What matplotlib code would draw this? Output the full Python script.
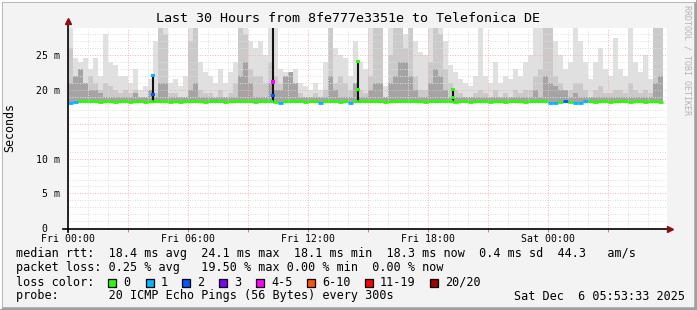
import numpy as np
import matplotlib.pyplot as plt
from matplotlib.patches import Rectangle
from matplotlib.lines import Line2D

W, H = 697, 310
MONO = 'DejaVu Sans Mono'

# smoke envelopes, 15 minute bins from Fri 00:00 (values in ms)
smoke_top = [29, 24.5, 24, 24.5, 23, 24.5, 22, 28, 24, 23.5,
             22, 22, 21, 23, 20, 20.5, 21.5, 27, 29, 29,
             21, 21.5, 20.5, 22, 29, 29, 24, 22.5, 22, 21,
             23, 21, 22.5, 24, 29, 29, 27, 26, 27, 25,
             29, 29, 23, 22.5, 21.5, 23, 21, 20.5, 20, 21,
             20, 24, 29, 26, 25, 24.5, 22, 27, 24, 23,
             29, 29, 29, 20.5, 29, 29, 29, 28, 29, 27,
             25.5, 25, 29, 29, 29, 27, 23.5, 22.5, 21.5, 21,
             20.5, 22, 29, 22, 21, 24, 21, 22, 21.5, 23,
             22, 24, 25, 29, 29, 29, 29, 27, 25, 23,
             24, 29, 27, 24, 21.5, 24, 26, 23, 22, 27.5,
             23, 22, 29, 24, 22.5, 25, 21.5, 29, 29]
smoke_mid = [26, 22, 23, 21, 22, 21, 20, 21, 20.5, 20,
             19.5, 20, 19.5, 20, 19, 19, 20, 19.5, 29, 28,
             19.5, 19.5, 19, 19, 27, 29, 20, 19.5, 19.5, 19,
             20, 19, 19.5, 21, 29, 28, 23, 22, 22, 21,
             24, 22, 21, 20, 20, 20, 19.5, 19, 19, 19.5,
             19, 20, 29, 21, 22, 21, 20, 21, 20, 19.5,
             22, 29, 29, 19, 25, 29, 29, 26, 29, 22,
             20, 20, 24, 29, 28, 23, 21, 20, 19.5, 19,
             19, 19.5, 20, 19.5, 19, 20, 19, 19.5, 19, 20,
             19.5, 20, 20, 22, 23, 29, 29, 22, 21, 20,
             20, 21, 21, 20, 19, 20, 20.5, 19.5, 19.5, 20,
             20, 19.5, 21, 20, 19.5, 20, 19.5, 29, 29]
smoke_dark = [21, 22, 23, 21, 20, 20, 19.5, 19, 19, 19,
              19, 19, 19, 19.5, 19, 19, 20, 19, 21, 21,
              19, 19, 19, 19, 20, 21, 19, 19, 19, 19,
              19, 19, 19, 19, 22, 24, 21, 19, 19, 19,
              21, 20, 20, 22, 22.5, 21, 19, 19, 19, 19,
              19, 19, 22, 20, 19, 19, 19, 21, 19, 19,
              20, 21, 21, 19, 21, 22, 24, 24, 22, 20,
              19, 19, 21, 23, 22, 20, 19, 19, 19, 19,
              19, 19, 19, 19, 19, 19, 19, 19, 19, 19,
              19, 19, 19, 20, 19, 22, 21, 20.5, 20, 20,
              19, 19.5, 19, 19, 19, 19, 19, 19, 19, 19,
              19, 19, 19, 19, 19, 19, 19, 21, 22]
median = [18.1, 18.2, 18.3, 18.4, 18.3, 18.3, 18.2, 18.3, 18.3, 18.2,
          18.3, 18.3, 18.2, 18.3, 18.3, 18.2, 18.3, 18.4, 18.3, 18.3,
          18.2, 18.3, 18.2, 18.3, 18.3, 18.4, 18.3, 18.2, 18.3, 18.3,
          18.3, 18.2, 18.3, 18.4, 18.3, 18.3, 18.3, 18.2, 18.3, 18.3,
          18.3, 18.2, 18.1, 18.3, 18.3, 18.4, 18.3, 18.2, 18.3, 18.3,
          18.1, 18.3, 18.3, 18.3, 18.2, 18.3, 18.1, 18.3, 18.4, 18.3,
          18.4, 18.3, 18.3, 18.2, 18.3, 18.4, 18.3, 18.3, 18.4, 18.3,
          18.3, 18.2, 18.3, 18.3, 18.4, 18.3, 18.3, 18.2, 18.3, 18.3,
          18.2, 18.3, 18.3, 18.3, 18.2, 18.3, 18.3, 18.2, 18.3, 18.3,
          18.3, 18.2, 18.3, 18.4, 18.3, 18.3, 18.1, 18.1, 18.2, 18.3,
          18.2, 18.1, 18.1, 18.3, 18.3, 18.2, 18.3, 18.3, 18.2, 18.3,
          18.3, 18.3, 18.2, 18.3, 18.3, 18.2, 18.3, 18.3, 18.2]
loss = [1, 1, 0, 0, 0, 0, 0, 0, 0, 0,
        0, 0, 0, 0, 0, 0, 0, 0, 0, 0,
        0, 0, 0, 0, 0, 0, 0, 0, 0, 0,
        0, 0, 0, 0, 0, 0, 0, 0, 0, 0,
        0, 0, 1, 0, 0, 0, 0, 0, 0, 0,
        1, 0, 0, 0, 0, 0, 1, 0, 0, 0,
        0, 0, 0, 0, 0, 0, 0, 0, 0, 0,
        0, 0, 0, 0, 0, 0, 0, 0, 0, 0,
        0, 0, 0, 0, 0, 0, 0, 0, 0, 0,
        0, 0, 0, 0, 0, 0, 1, 1, 0, 2,
        0, 1, 1, 1, 0, 0, 0, 0, 0, 0,
        0, 0, 0, 0, 0, 0, 0, 0, 0]

spike_hours = [4.25, 10.25, 14.5, 19.25]
spike_tops = [22.0, 28.9, 24.0, 20.0]
dot_hours = [4.25, 4.25, 10.25, 10.25, 14.5, 14.5, 19.25, 19.25]
dot_values = [22.0, 19.3, 21.1, 19.2, 24.0, 20.0, 20.0, 18.9]
dot_loss = [1, 2, 4, 2, 0, 0, 0, 0]

loss_labels = ['0', '1', '2', '3', '4-5', '6-10', '11-19', '20/20']
loss_colors = ['#26ff00', '#00b8ff', '#0059ff', '#7e00ff', '#ff00ff',
               '#ff5500', '#ff0000', '#a10000']
loss_box_x = [108, 146, 182, 219, 256, 307, 365, 430]

time_ticks = [0, 6, 12, 18, 24]
time_labels = ['Fri 00:00', 'Fri 06:00', 'Fri 12:00', 'Fri 18:00', 'Sat 00:00']
ms_ticks = [0, 5, 10, 20, 25]
ms_labels = [' 0', ' 5 m', '10 m', '20 m', '25 m']


def fx(x):
    return x / W


def fy(y):
    return 1 - y / H


fig = plt.figure(figsize=(W / 100, H / 100), dpi=100, facecolor='#f3f3f3')

# 3d frame round the canvas
fig.add_artist(Rectangle((0, 0), 1, 1, transform=fig.transFigure,
                         facecolor='none', edgecolor='#a0a0a0', linewidth=4))
fig.add_artist(Line2D([0, 1 - fx(3)], [1, 1], transform=fig.transFigure, color='#fcfcfc', lw=3))
fig.add_artist(Line2D([0, 0], [fy(H - 3), 1], transform=fig.transFigure, color='#fcfcfc', lw=3))

ax = fig.add_axes([fx(67), fy(228), fx(600), 200 / H])
ax.set_facecolor('white')
ax.set_xlim(-0.05, 29.95)
ax.set_ylim(0, 28.9)
for s in ax.spines.values():
    s.set_visible(False)

bins = np.arange(len(smoke_top)) * 0.25
base = 18.0
ax.bar(bins, np.array(smoke_top) - base, width=0.25, bottom=base, align='edge',
       color='#e0e0e0', linewidth=0, zorder=2)
ax.bar(bins, np.array(smoke_mid) - base, width=0.25, bottom=base, align='edge',
       color='#cacaca', linewidth=0, zorder=2.1)
ax.bar(bins, np.array(smoke_dark) - base, width=0.25, bottom=base, align='edge',
       color='#a4a4a4', linewidth=0, zorder=2.2)

# grid
for v in range(0, 29):
    major = v % 5 == 0
    ax.axhline(v, color='#f4b4b4' if major else '#dedede', lw=0.72,
               ls=(0, (1, 1.5)), zorder=3)
for h in range(0, 30):
    major = h % 3 == 0
    ax.axvline(h, color='#f4b4b4' if major else '#dedede', lw=0.72,
               ls=(0, (1, 1.5)), zorder=3)

ax.vlines(spike_hours, 18.2, spike_tops, color='#111111', linewidth=1.5, zorder=4)
ax.hlines(median, bins, bins + 0.25, colors=[loss_colors[l] for l in loss],
          linewidth=2.0, zorder=5)
ax.scatter(dot_hours, dot_values, c=[loss_colors[l] for l in dot_loss], s=5,
           marker='s', linewidths=0, zorder=6)

ax.set_xticks(time_ticks)
ax.set_xticklabels(time_labels, family=MONO, fontsize=7.1)
ax.set_xticks(range(0, 30, 3), minor=True)
ax.tick_params(axis='x', which='both', length=3, width=0.72, color='#e08080', pad=1.5)
ax.set_yticks(ms_ticks)
ax.set_yticklabels(ms_labels, family=MONO, fontsize=7.1, ha='left')
ax.tick_params(axis='y', length=0, pad=(67 - 36) * 0.72)

# axes with arrows
fig.add_artist(Line2D([fx(67.5), fx(67.5)], [fy(232), fy(24)], transform=fig.transFigure,
                      color='black', lw=1.2))
fig.add_artist(Line2D([fx(63), fx(668)], [fy(228.5), fy(228.5)], transform=fig.transFigure,
                      color='black', lw=1.2))
fig.add_artist(Line2D([fx(67.5)], [fy(21)], transform=fig.transFigure, marker='^',
                      markersize=5, color='#8b1010', lw=0))
fig.add_artist(Line2D([fx(670)], [fy(228.5)], transform=fig.transFigure, marker='>',
                      markersize=5, color='#8b1010', lw=0))

fig.text(fx(348), fy(19), 'Last 30 Hours from 8fe777e3351e to Telefonica DE',
         family=MONO, fontsize=9.6, ha='center', va='center')
fig.text(fx(10), fy(128), 'Seconds', family=MONO, fontsize=8.4, rotation=90,
         ha='center', va='center')
fig.text(fx(687), fy(60), 'RRDTOOL / TOBI OETIKER', family=MONO, fontsize=6,
         rotation=270, ha='center', va='center', color='#b4b4b4')

rows = [
    'median rtt:  18.4 ms avg  24.1 ms max  18.1 ms min  18.3 ms now  0.4 ms sd  44.3   am/s',
    'packet loss: 0.25 % avg   19.50 % max 0.00 % min  0.00 % now',
]
fig.text(fx(16), fy(254), rows[0], family=MONO, fontsize=8.5, va='center')
fig.text(fx(16), fy(268), rows[1], family=MONO, fontsize=8.5, va='center')
fig.text(fx(16), fy(282), 'loss color:', family=MONO, fontsize=8.5, va='center')
for bx, lab, col in zip(loss_box_x, loss_labels, loss_colors):
    fig.add_artist(Rectangle((fx(bx), fy(286.5)), 8 / W, 8 / H, transform=fig.transFigure,
                             facecolor=col, edgecolor='black', linewidth=0.9))
    fig.text(fx(bx + 15), fy(282), lab, family=MONO, fontsize=8.5, va='center')
fig.text(fx(16), fy(296), 'probe:       20 ICMP Echo Pings (56 Bytes) every 300s',
         family=MONO, fontsize=8.5, va='center')
fig.text(fx(514), fy(296), 'Sat Dec  6 05:53:33 2025', family=MONO, fontsize=8.5, va='center')

fig.savefig('out.png', dpi=100, facecolor=fig.get_facecolor())
